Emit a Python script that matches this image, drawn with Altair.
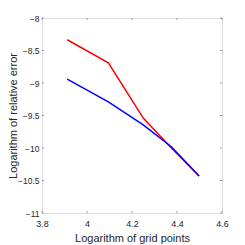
import altair as alt
import pandas as pd

grid = [3.912, 4.095, 4.250, 4.376, 4.498]
err_red = [-8.335, -8.690, -9.540, -10.005, -10.430]
err_blue = [-8.940, -9.290, -9.645, -9.985, -10.430]
xticks = [3.8, 4.0, 4.2, 4.4, 4.6]
yticks = [-8, -8.5, -9, -9.5, -10, -10.5, -11]

df = pd.DataFrame({
    "x": grid * 2,
    "y": err_red + err_blue,
    "s": ["red"] * len(grid) + ["blue"] * len(grid),
})

W, H = 180, 195
TXT = "#262626"
AX = "#9a9a9a"
FONT = "Liberation Sans"

xs = alt.Scale(domain=[3.8, 4.6], nice=False, zero=False)
ys = alt.Scale(domain=[-11, -8], nice=False, zero=False)

xaxis = alt.Axis(title="Logarithm of grid points", values=xticks,
                 format="~g", labelOverlap=False, labelFlush=False,
                 tickSize=0, domain=False, grid=False,
                 labelPadding=6, titlePadding=4,
                 labelFontSize=9, titleFontSize=11,
                 labelColor=TXT, titleColor=TXT,
                 labelFont=FONT, titleFont=FONT, titleFontWeight="normal")
yaxis = alt.Axis(title="Logarithm of relative error", values=yticks,
                 format="~g", labelOverlap=False, labelFlush=False,
                 tickSize=0, domain=False, grid=False,
                 labelPadding=3,
                 titleX=-29, titleY=H / 2, titleAngle=-90,
                 titleBaseline="middle", titleAlign="center",
                 labelFontSize=8.5, titleFontSize=11,
                 labelColor=TXT, titleColor=TXT,
                 labelFont=FONT, titleFont=FONT, titleFontWeight="normal")

lines = alt.Chart(df).mark_line(strokeWidth=1.5).encode(
    x=alt.X("x:Q", scale=xs, axis=xaxis),
    y=alt.Y("y:Q", scale=ys, axis=yaxis),
    color=alt.Color("s:N", scale=alt.Scale(domain=["red", "blue"], range=["#ff0000", "#0000ff"]), legend=None),
    detail="s:N",
)

ydf = pd.DataFrame({"v": yticks})
xdf = pd.DataFrame({"v": xticks})

yt_left = alt.Chart(ydf).mark_rule(color=AX, strokeWidth=1).encode(
    y=alt.Y("v:Q", scale=ys, axis=yaxis), x=alt.value(0), x2=alt.value(2))
yt_right = alt.Chart(ydf).mark_rule(color=AX, strokeWidth=1).encode(
    y=alt.Y("v:Q", scale=ys, axis=yaxis), x=alt.value(W - 2), x2=alt.value(W))
xt_bot = alt.Chart(xdf).mark_rule(color=AX, strokeWidth=1).encode(
    x=alt.X("v:Q", scale=xs, axis=xaxis), y=alt.value(H - 2), y2=alt.value(H))
xt_top = alt.Chart(xdf).mark_rule(color=AX, strokeWidth=1).encode(
    x=alt.X("v:Q", scale=xs, axis=xaxis), y=alt.value(0), y2=alt.value(2))

chart = alt.layer(lines, yt_left, yt_right, xt_bot, xt_top).properties(
    width=W, height=H,
    autosize=alt.AutoSizeParams(type="none"),
    padding={"left": 34, "top": 10, "right": 15, "bottom": 31},
).configure_view(stroke=AX, strokeWidth=1).configure(background="white")

chart.save("out.html", embed_options={"renderer": "svg", "actions": False})
